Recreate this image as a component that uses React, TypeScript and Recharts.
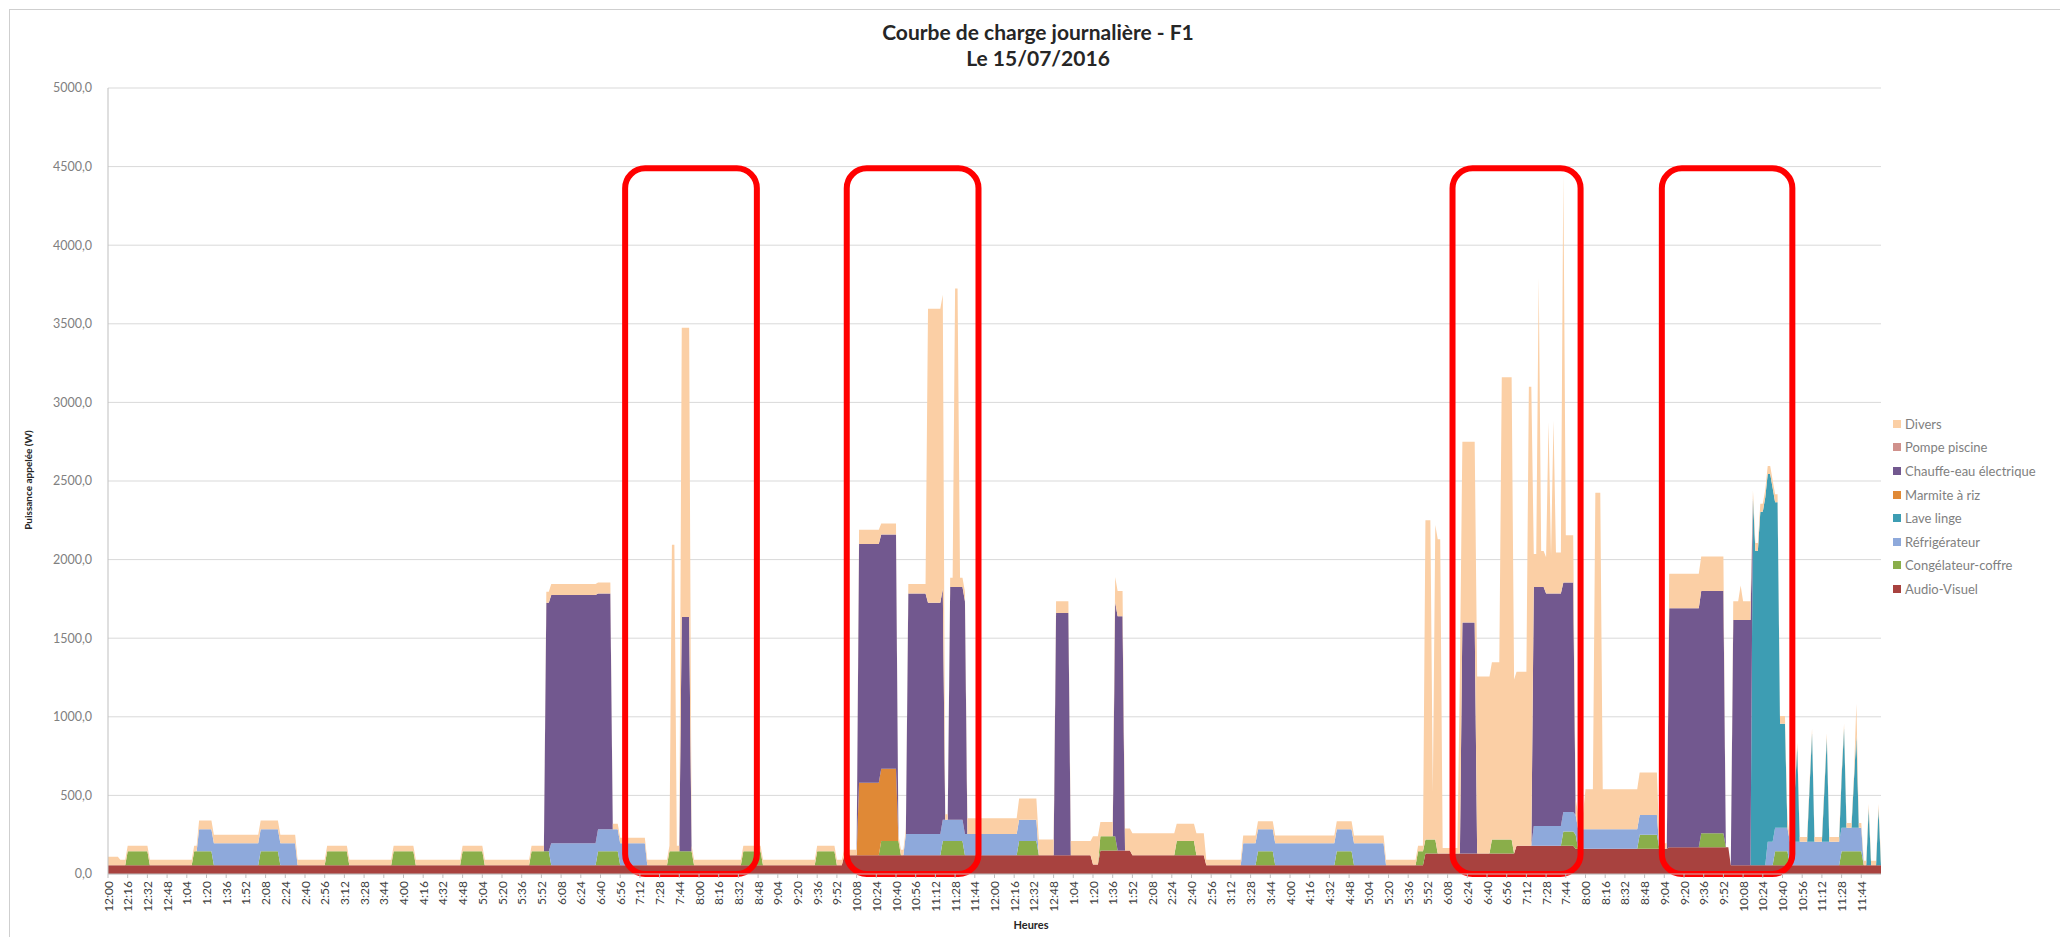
import { AreaChart, Area, XAxis, YAxis, CartesianGrid, ReferenceArea } from "recharts";

// [start minute, end minute (exclusive), watts]
type Seg = [number, number, number];

const HALF_DAY_LABELS = [
  "12:00", "12:16", "12:32", "12:48", "1:04", "1:20", "1:36", "1:52", "2:08", "2:24",
  "2:40", "2:56", "3:12", "3:28", "3:44", "4:00", "4:16", "4:32", "4:48", "5:04",
  "5:20", "5:36", "5:52", "6:08", "6:24", "6:40", "6:56", "7:12", "7:28", "7:44",
  "8:00", "8:16", "8:32", "8:48", "9:04", "9:20", "9:36", "9:52", "10:08", "10:24",
  "10:40", "10:56", "11:12", "11:28", "11:44",
];
const TICK_LABELS = [...HALF_DAY_LABELS, ...HALF_DAY_LABELS];
const Y_TICKS = [0, 500, 1000, 1500, 2000, 2500, 3000, 3500, 4000, 4500, 5000];

// plateaus, per appliance (W)
const AUDIO_VISUEL_BASE = 55;
const AUDIO_VISUEL: Seg[] = [
  [598, 800, 120], [800, 806, 60], [806, 832, 150], [832, 892, 120],
  [1070, 1143, 130], [1143, 1192, 180], [1192, 1268, 160], [1268, 1317, 170],
];

const CONGELATEUR: Seg[] = [
  [16, 33, 90], [69, 86, 90], [123, 140, 90], [178, 195, 90], [232, 249, 90],
  [288, 305, 90], [344, 359, 90], [398, 415, 90], [456, 476, 90], [516, 532, 90],
  [575, 591, 90], [628, 643, 90], [678, 695, 90], [739, 756, 90], [805, 819, 90],
  [867, 883, 90], [934, 947, 90], [998, 1012, 90], [1063, 1080, 90], [1124, 1142, 90],
  [1181, 1193, 90], [1243, 1259, 90], [1294, 1314, 90], [1354, 1365, 90], [1408, 1426, 90],
];

const REFRIGERATEUR: Seg[] = [
  [74, 153, 140], [359, 437, 140], [648, 756, 135], [922, 1037, 140],
  [1157, 1259, 125], [1347, 1426, 150],
];

const LAVE_LINGE: Seg[] = [
  [1335, 1338, 2335], [1338, 1342, 2000], [1342, 1345, 2250], [1345, 1351, 2340],
  [1351, 1354, 2250], [1354, 1358, 2070], [1358, 1364, 660],
  [1370, 1372, 320], [1372, 1374, 600], [1382, 1384, 350], [1384, 1386, 690],
  [1394, 1396, 330], [1396, 1398, 660], [1408, 1410, 320], [1410, 1412, 630],
  [1418, 1420, 300], [1420, 1422, 590], [1430, 1432, 360], [1438, 1440, 360],
];

const MARMITE: Seg[] = [[609, 642, 460]];

const CHAUFFE_EAU: Seg[] = [
  [356, 398, 1580], [398, 410, 1500], [466, 474, 1490],
  [609, 628, 1520], [628, 642, 1490], [650, 665, 1530], [665, 679, 1470], [683, 697, 1480],
  [770, 782, 1540], [817, 826, 1490], [1100, 1111, 1470],
  [1157, 1168, 1520], [1168, 1181, 1480], [1181, 1192, 1460],
  [1268, 1294, 1520], [1294, 1314, 1540], [1319, 1335, 1560],
];

const POMPE_PISCINE: Seg[] = [];

const DIVERS_BASE = 35;
const DIVERS: Seg[] = [
  [0, 10, 55], [74, 153, 55], [356, 410, 70], [457, 461, 1950], [466, 474, 1840],
  [609, 628, 90], [628, 642, 70], [650, 666, 60], [666, 680, 1870], [683, 688, 60],
  [688, 692, 1900], [692, 697, 60], [697, 739, 100], [739, 756, 135], [756, 770, 100],
  [770, 782, 75], [782, 800, 90], [800, 805, 180], [805, 817, 90], [817, 826, 160],
  [826, 867, 140], [867, 883, 110], [883, 892, 140], [922, 1037, 50],
  [1070, 1076, 2030], [1076, 1078, 300], [1078, 1083, 2000],
  [1097, 1100, 1170], [1100, 1111, 1150], [1111, 1132, 1127], [1132, 1142, 2940],
  [1142, 1154, 1107], [1154, 1157, 2920], [1157, 1162, 210], [1162, 1164, 1970],
  [1164, 1170, 230], [1170, 1172, 1090], [1172, 1174, 240], [1174, 1176, 1100],
  [1176, 1181, 260], [1181, 1183, 2600], [1183, 1192, 300], [1192, 1200, 100],
  [1200, 1208, 254], [1208, 1213, 2140], [1213, 1243, 254], [1243, 1259, 270],
  [1268, 1314, 220], [1314, 1319, 0], [1319, 1335, 120], [1326, 1328, 220],
  [1335, 1365, 50], [1365, 1440, 30], [1420, 1422, 200],
];

// stack order, bottom to top
const SERIES = [
  { key: "audio", name: "Audio-Visuel", color: "#A8423F", base: AUDIO_VISUEL_BASE, segs: AUDIO_VISUEL },
  { key: "congel", name: "Congélateur-coffre", color: "#8AAE4A", base: 0, segs: CONGELATEUR },
  { key: "frigo", name: "Réfrigérateur", color: "#8EA9DB", base: 0, segs: REFRIGERATEUR },
  { key: "lavelinge", name: "Lave linge", color: "#3D9DB3", base: 0, segs: LAVE_LINGE },
  { key: "marmite", name: "Marmite à riz", color: "#E08936", base: 0, segs: MARMITE },
  { key: "chauffe", name: "Chauffe-eau électrique", color: "#72588F", base: 0, segs: CHAUFFE_EAU },
  { key: "pompe", name: "Pompe piscine", color: "#D0918C", base: 0, segs: POMPE_PISCINE },
  { key: "divers", name: "Divers", color: "#FBCFA5", base: DIVERS_BASE, segs: DIVERS },
];

// red highlight boxes [from minute, to minute, top W]
const HIGHLIGHTS: Seg[] = [
  [420, 527, 4490],
  [600, 707, 4490],
  [1092, 1196, 4490],
  [1262, 1368, 4490],
];

const STEP = 2;
const DAY = 1440;

function level(segs: Seg[], base: number, t: number) {
  let v = base;
  for (const [a, b, val] of segs) if (t >= a && t < b) v = val;
  return v;
}

const data: Record<string, number>[] = [];
for (let t = 0; t <= DAY; t += STEP) {
  const row: Record<string, number> = { t };
  SERIES.forEach((s) => (row[s.key] = level(s.segs, s.base, t)));
  data.push(row);
}

const FONT = "Lato, 'Open Sans', sans-serif";

function XTick({ x, y, payload }: any) {
  return (
    <text
      transform={`translate(${x},${y}) rotate(-90)`}
      textAnchor="end"
      dominantBaseline="central"
      fontSize={12}
      fontFamily={FONT}
      fill="#404040"
    >
      {TICK_LABELS[Math.round(payload.value / 16)]}
    </text>
  );
}

export default function App() {
  return (
    <div style={{ position: "relative", width: 2060, height: 937, overflow: "hidden", background: "#fff" }}>
      <style>{`body{margin:0}`}</style>
      <div
        style={{
          position: "absolute",
          left: 9,
          top: 9,
          width: 2200,
          height: 1100,
          border: "1px solid #cfcfcf",
        }}
      />
      <div
        style={{
          position: "absolute",
          left: 0,
          width: 2076,
          top: 19,
          textAlign: "center",
          fontFamily: FONT,
          fontWeight: 700,
          fontSize: 21,
          lineHeight: "26px",
          color: "#262626",
        }}
      >
        <div>Courbe de charge journalière - F1</div>
        <div>Le 15/07/2016</div>
      </div>

      <AreaChart
        width={2060}
        height={937}
        data={data}
        margin={{ top: 88, right: 179, bottom: 0, left: 10 }}
      >
        <CartesianGrid vertical={false} stroke="#D9D9D9" />
        <XAxis
          dataKey="t"
          type="number"
          domain={[0, DAY]}
          ticks={TICK_LABELS.map((_, i) => i * 16)}
          interval={0}
          height={63}
          tick={<XTick />}
          tickSize={4}
          tickMargin={3}
          stroke="#BFBFBF"
        />
        <YAxis
          domain={[0, 5000]}
          ticks={Y_TICKS}
          width={98}
          tickSize={0}
          tickMargin={16}
          stroke="#BFBFBF"
          tick={{ fontSize: 12.5, fontFamily: FONT, fill: "#808080" }}
          tickFormatter={(v: number) => v.toFixed(1).replace(".", ",")}
        />
        {SERIES.map((s) => (
          <Area
            key={s.key}
            dataKey={s.key}
            name={s.name}
            stackId="1"
            type="linear"
            fill={s.color}
            fillOpacity={1}
            stroke="none"
            dot={false}
            activeDot={false}
            isAnimationActive={false}
          />
        ))}
        {HIGHLIGHTS.map(([a, b, top], i) => (
          <ReferenceArea
            key={i}
            x1={a}
            x2={b}
            y1={0}
            y2={top}
            ifOverflow="visible"
            shape={(p: any) => (
              <rect
                x={p.x}
                y={p.y}
                width={p.width}
                height={p.height}
                rx={20}
                ry={20}
                fill="none"
                stroke="#FF0000"
                strokeWidth={6}
              />
            )}
          />
        ))}
      </AreaChart>

      <div
        style={{
          position: "absolute",
          left: 28,
          top: 480,
          transform: "translate(-50%, -50%) rotate(-90deg)",
          whiteSpace: "nowrap",
          fontFamily: FONT,
          fontWeight: 700,
          fontSize: 10,
          color: "#262626",
        }}
      >
        Puissance appelée (W)
      </div>
      <div
        style={{
          position: "absolute",
          left: 1031,
          top: 924,
          transform: "translate(-50%, -50%)",
          fontFamily: FONT,
          fontWeight: 700,
          fontSize: 11,
          color: "#262626",
        }}
      >
        Heures
      </div>

      <div style={{ position: "absolute", left: 1893, top: 412, fontFamily: FONT, fontSize: 13, color: "#7F7F7F" }}>
        {[...SERIES].reverse().map((s) => (
          <div key={s.key} style={{ display: "flex", alignItems: "center", height: 23.6, whiteSpace: "nowrap" }}>
            <span style={{ display: "inline-block", width: 8, height: 8, background: s.color, marginRight: 4 }} />
            {s.name}
          </div>
        ))}
      </div>
    </div>
  );
}
